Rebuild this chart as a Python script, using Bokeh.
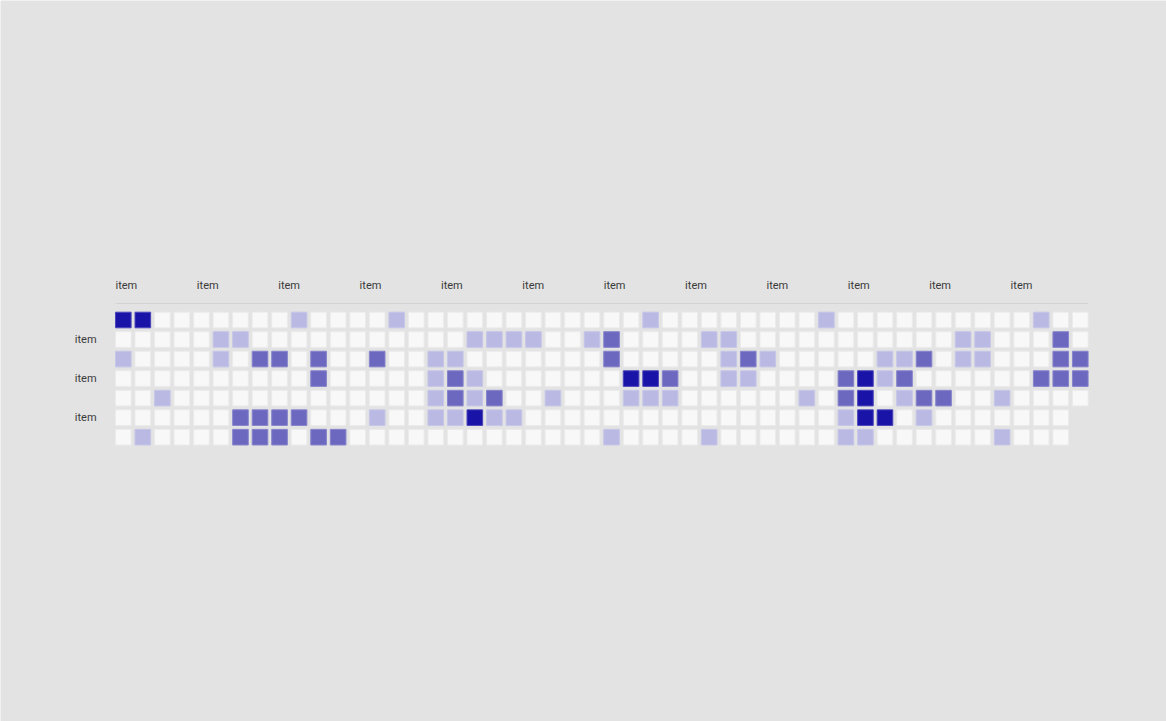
from bokeh.plotting import figure
from bokeh.models import Range1d, ColumnDataSource
from bokeh.core.properties import value
from bokeh.embed import file_html
from bokeh.resources import INLINE

# ---- data: one list per weekday row, one value per week column ----
row0 = [3,3,0,0,0,0,0,0,0,1, 0,0,0,0,1,0,0,0,0,0, 0,0,0,0,0,0,0,1,0,0, 0,0,0,0,0,0,1,0,0,0, 0,0,0,0,0,0,0,1,0,0]
row1 = [0,0,0,0,0,1,1,0,0,0, 0,0,0,0,0,0,0,0,1,1, 1,1,0,0,1,2,0,0,0,0, 1,1,0,0,0,0,0,0,0,0, 0,0,0,1,1,0,0,0,2,0]
row2 = [1,0,0,0,0,1,0,2,2,0, 2,0,0,2,0,0,1,1,0,0, 0,0,0,0,0,2,0,0,0,0, 0,1,2,1,0,0,0,0,0,1, 1,2,0,1,1,0,0,0,2,2]
row3 = [0,0,0,0,0,0,0,0,0,0, 2,0,0,0,0,0,1,2,1,0, 0,0,0,0,0,0,3,3,2,0, 0,1,1,0,0,0,0,2,3,1, 2,0,0,0,0,0,0,2,2,2]
row4 = [0,0,1,0,0,0,0,0,0,0, 0,0,0,0,0,0,1,2,1,2, 0,0,1,0,0,0,1,1,1,0, 0,0,0,0,0,1,0,2,3,0, 1,2,2,0,0,1,0,0,0,0]
row5 = [0,0,0,0,0,0,2,2,2,2, 0,0,0,1,0,0,1,1,3,1, 1,0,0,0,0,0,0,0,0,0, 0,0,0,0,0,0,0,1,3,3, 0,1,0,0,0,0,0,0,0]
row6 = [0,1,0,0,0,0,2,2,2,0, 2,2,0,0,0,0,0,0,0,0, 0,0,0,0,0,1,0,0,0,0, 1,0,0,0,0,0,0,1,1,0, 0,0,0,0,0,1,0,0,0]
rows = [row0, row1, row2, row3, row4, row5, row6]

month_labels = ["item"] * 12
day_labels = ["item", "item", "item"]
day_label_rows = [1, 3, 5]
n_weeks = 50

level_fill = ["#f8f8f8", "#b9b9e4", "#6c68c0", "#1a13a7"]
level_line = ["#ebebeb", "#c6c6e8", "#8784cc", "#4b45ba"]

# ---- geometry (pixel mapping) ----
PITCH = 19.53
W, H = 1166, 721
x0 = -122.8 / PITCH
y_top = -319.5 / PITCH

p = figure(width=W, height=H, output_backend="svg", toolbar_location=None,
           x_range=Range1d(x0, x0 + W / PITCH),
           y_range=Range1d(y_top + H / PITCH, y_top),
           min_border=0, background_fill_color="#e3e3e3",
           border_fill_color="#e3e3e3", outline_line_color=None)
p.axis.visible = False
p.grid.visible = False

xs, ys, fills, lines = [], [], [], []
for r, vals in enumerate(rows):
    for c, v in enumerate(vals):
        xs.append(c)
        ys.append(r)
        fills.append(level_fill[v])
        lines.append(level_line[v])
src = ColumnDataSource(dict(x=xs, y=ys, fill=fills, line=lines))
p.rect("x", "y", width=0.8, height=0.8, source=src, fill_color="fill",
       line_color="line", line_width=1)

# separator line under month labels
p.line([-0.4, n_weeks - 1 + 0.4], [-0.846, -0.846], line_color="#d2d2d2", line_width=1)

# month labels
mx = [-0.4 + i * n_weeks / 12 for i in range(12)]
p.text(mx, [-1.77] * 12, text=month_labels, text_font=value("Roboto"),
       text_font_size="11px", text_color="#3a3a3a", text_align="left",
       text_baseline="middle")

# weekday labels
p.text([-1.37] * 3, day_label_rows, text=day_labels, text_font=value("Roboto"),
       text_font_size="11px", text_color="#3a3a3a", text_align="right",
       text_baseline="middle")

open("out.html", "w").write(file_html(p, INLINE))
